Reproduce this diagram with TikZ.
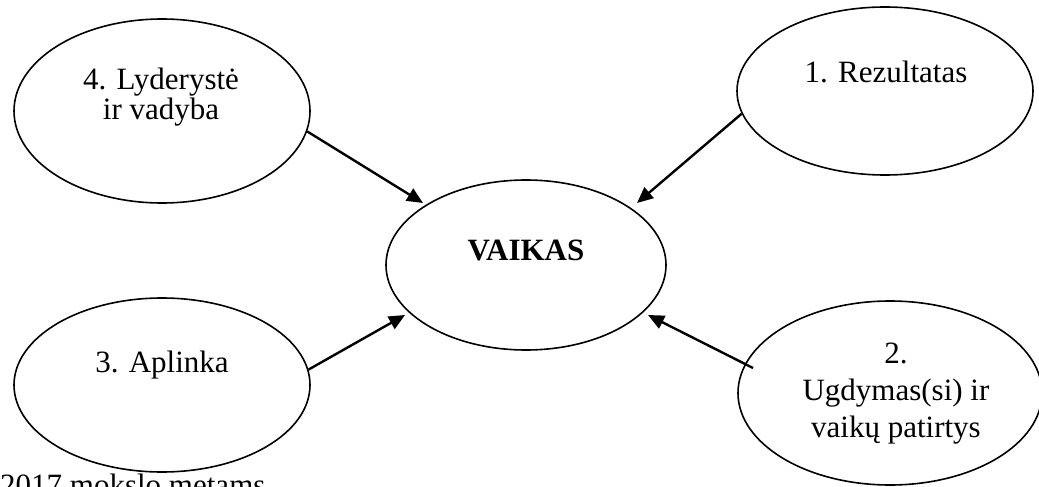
\documentclass[tikz,border=0pt]{standalone}
\usepackage{fontspec}
\setmainfont{Liberation Serif}
\usetikzlibrary{arrows.meta,shapes.geometric}
\begin{document}
\begin{tikzpicture}[x=1pt,y=-1pt,
  oval/.style={ellipse, draw, line width=1.6pt, inner sep=0pt},
  lbl/.style={font=\fontsize{31}{30}\selectfont, align=center, inner sep=0pt},
  arr/.style={line width=2.4pt, -{Triangle[length=16pt,width=14pt]}}]
\useasboundingbox (0,0) rectangle (1039,487);
\clip (0,0) rectangle (1039,487);
% ellipses
\node[oval, minimum width=296pt, minimum height=184pt] (e4) at (162,111) {};
\node[oval, minimum width=296pt, minimum height=168pt] (e1) at (885,91) {};
\node[oval, minimum width=280pt, minimum height=170pt] (ec) at (526,265) {};
\node[oval, minimum width=296pt, minimum height=174pt] (e3) at (162,385) {};
\node[oval, minimum width=304pt, minimum height=184pt] (e2) at (890,393) {};
% texts
\node[lbl] (t4) at (161,97) {4. Lyderystė\\ir vadyba};
\node[lbl] (t1) at (886,72) {1. Rezultatas};
\node[lbl, font=\fontsize{31}{36}\selectfont\bfseries] (tc) at (526,250) {VAIKAS};
\node[lbl] (t3) at (162,365) {3. Aplinka};
\node[lbl, font=\fontsize{31}{37}\selectfont] (t2) at (896,394) {2.\\Ugdymas(si) ir\\vaikų patirtys};
\node[lbl, anchor=base west] (yr) at (0,495) {2017 mokslo metams};
% arrow tips
\coordinate (p4) at (423,203);
\coordinate (p1) at (637,203);
\coordinate (p3) at (405,315);
\coordinate (p2) at (648,315);
\coordinate (s2) at (753,368);
\draw[arr] (e4.-8) -- (p4);
\draw[arr] (e1.189) -- (p1);
\draw[arr] (e3.6.5) -- (p3);
\draw[arr] (s2) -- (p2);
\end{tikzpicture}
\end{document}
